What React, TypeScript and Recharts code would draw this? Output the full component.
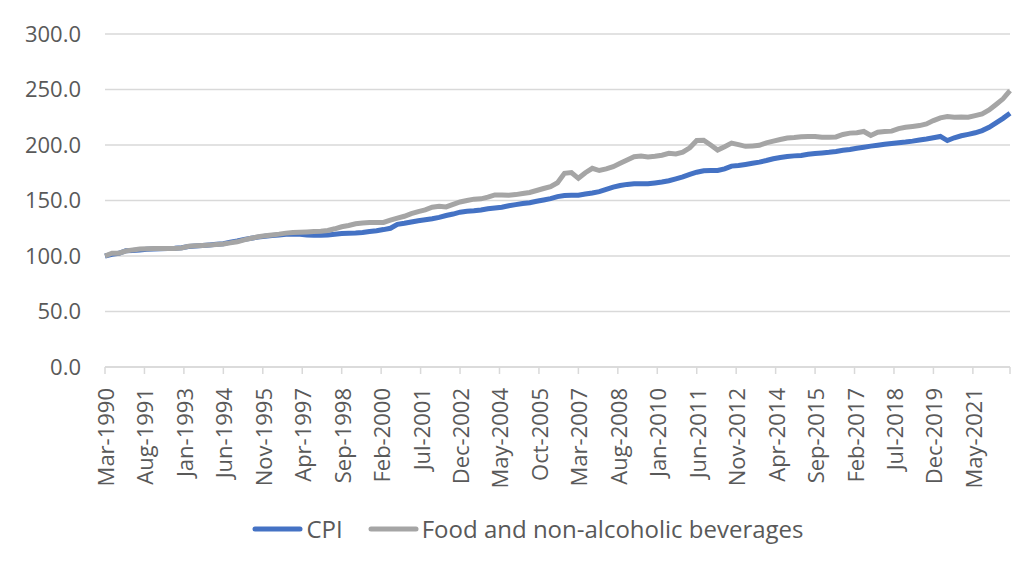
import { LineChart, Line, XAxis, YAxis, CartesianGrid, Legend } from 'recharts';

// Quarterly index, Mar-1990 = 100
const START_YEAR = 1990;
const START_MONTH = 2; // March

const MONTH_NAMES = ['Jan', 'Feb', 'Mar', 'Apr', 'May', 'Jun', 'Jul', 'Aug', 'Sep', 'Oct', 'Nov', 'Dec'];

const cpi = [
  100, 101.5, 102.5, 104.8, 105, 105.5, 106, 106.3, 106.5, 106.7,
  107, 107.5, 108.5, 109, 109.5, 110, 110.5, 111, 112.5, 113.5,
  115, 116, 117, 117.8, 118.4, 119, 119.5, 119.8, 119.5, 119,
  118.8, 118.7, 119, 119.5, 120.2, 120.4, 120.7, 121.2, 122, 122.8,
  123.8, 125, 128.5, 129.5, 130.7, 131.8, 132.6, 133.5, 134.8, 136.5,
  137.8, 139.5, 140.3, 140.7, 141.5, 142.5, 143.2, 144, 145.3, 146.3,
  147.3, 148, 149.3, 150.5, 151.7, 153.5, 154.5, 154.7, 154.7, 155.8,
  156.8, 158, 160, 162, 163.5, 164.5, 165, 165, 165, 165.8,
  166.6, 167.8, 169.5, 171.2, 173.5, 175.5, 176.8, 177, 177, 178.5,
  181, 181.6, 182.5, 183.5, 184.6, 186, 187.6, 188.8, 189.7, 190.2,
  190.6, 191.6, 192.3, 192.8, 193.4, 194.2, 195.2, 196, 197, 198,
  199, 199.8, 200.6, 201.4, 202.1, 202.7, 203.5, 204.5, 205.4, 206.5,
  207.7, 204, 206.5, 208.3, 209.6, 211, 213, 216, 220, 224,
  228.6,
];

const food = [
  100, 102.5, 102.5, 104.5, 105.5, 106.2, 106.5, 106.7, 106.8, 106.8,
  106.8, 107.3, 108.7, 109.2, 109.5, 109.8, 110.3, 110.8, 111.8, 112.8,
  114.5, 116, 117.3, 118.2, 119, 119.7, 120.6, 121.2, 121.5, 121.7,
  122, 122.3, 123, 124.5, 126.3, 127.5, 129, 129.8, 130.1, 130.1,
  130.2, 132.3, 134.2, 135.8, 138.2, 140, 141.5, 144, 144.8, 144.2,
  146.5, 148.7, 150, 151.2, 151.5, 153, 155, 155, 154.8, 155.3,
  156.3, 157.2, 159, 160.8, 162.5, 166, 174.5, 175.2, 170, 175,
  179, 177, 178.5, 180.5, 183.5, 186.5, 189.5, 190, 189.2, 189.8,
  190.8, 192.5, 192, 193.5, 197.5, 204, 204.3, 200, 195.5, 198.5,
  201.7, 200.3, 198.8, 199.2, 199.7, 202, 203.5, 205, 206.3, 206.8,
  207.5, 207.7, 207.7, 207, 207, 207.3, 209.5, 210.7, 211, 212.2,
  208.6, 211.5, 212.2, 212.5, 214.8, 216, 216.7, 217.5, 219, 222,
  224.5, 225.7, 225, 225.2, 225, 226.5, 228, 231.5, 236.5, 241.6,
  249,
];

const tickLabels = [
  'Mar-1990', 'Aug-1991', 'Jan-1993', 'Jun-1994', 'Nov-1995', 'Apr-1997',
  'Sep-1998', 'Feb-2000', 'Jul-2001', 'Dec-2002', 'May-2004', 'Oct-2005',
  'Mar-2007', 'Aug-2008', 'Jan-2010', 'Jun-2011', 'Nov-2012', 'Apr-2014',
  'Sep-2015', 'Feb-2017', 'Jul-2018', 'Dec-2019', 'May-2021',
];

const yTicks = [0, 50, 100, 150, 200, 250, 300];

// months since Mar-1990
const monthOffset = (label: string) => {
  const [mon, yr] = label.split('-');
  return (Number(yr) - START_YEAR) * 12 + MONTH_NAMES.indexOf(mon) - START_MONTH;
};

const data = cpi.map((v, i) => ({
  m: i * 3,
  cpi: v,
  food: food[i],
}));

const lastMonth = (cpi.length - 1) * 3;
const labelByMonth: Record<number, string> = {};
tickLabels.forEach(l => { labelByMonth[monthOffset(l)] = l; });
const xTicks = [...tickLabels.map(monthOffset), lastMonth];

const FONT = '"Open Sans", "Noto Sans", sans-serif';
const TEXT = '#595959';

const XTick = (props: any) => {
  const { x, y, payload } = props;
  const label = labelByMonth[payload.value];
  if (!label) return null;
  return (
    <text
      x={x}
      y={y + 12}
      transform={`rotate(-90, ${x}, ${y + 12})`}
      textAnchor="end"
      dominantBaseline="central"
      fontSize={22}
      fontFamily={FONT}
      fill={TEXT}
    >
      {label}
    </text>
  );
};

const renderLegend = (props: any) => {
  const { payload } = props;
  return (
    <div style={{ display: 'flex', justifyContent: 'center', alignItems: 'center', fontFamily: FONT, fontSize: 24, color: TEXT }}>
      {payload.map((entry: any, i: number) => (
        <div key={entry.value} style={{ display: 'flex', alignItems: 'center', marginLeft: i === 0 ? 0 : 25 }}>
          <svg width={51} height={10} style={{ marginRight: 3 }}>
            <line x1={3} y1={5} x2={48} y2={5} stroke={entry.color} strokeWidth={5} strokeLinecap="round" />
          </svg>
          <span>{entry.value}</span>
        </div>
      ))}
    </div>
  );
};

export default function App() {
  return (
    <div style={{ position: 'absolute', left: 0, top: 0, width: 1032, height: 567, background: '#fff' }}>
      <LineChart width={1032} height={567} data={data} margin={{ top: 34, right: 22, left: 0, bottom: 0 }}>
        <CartesianGrid vertical={false} stroke="#d9d9d9" strokeWidth={1.5} />
        <XAxis
          dataKey="m"
          type="number"
          domain={[0, lastMonth]}
          ticks={xTicks}
          interval={0}
          height={200}
          tick={<XTick />}
          tickSize={7}
          axisLine={{ stroke: '#d9d9d9', strokeWidth: 1.5 }}
          tickLine={{ stroke: '#d9d9d9', strokeWidth: 1.5 }}
        />
        <YAxis
          domain={[0, 300]}
          ticks={yTicks}
          width={105}
          axisLine={false}
          tickLine={false}
          tickSize={0}
          tickMargin={24}
          tickFormatter={(v: number) => v.toFixed(1)}
          tick={{ fontSize: 22, fontFamily: FONT, fill: TEXT }}
        />
        <Legend
          layout="horizontal"
          align="center"
          verticalAlign="middle"
          content={renderLegend}
          wrapperStyle={{ top: 512, left: 12, width: 1032 }}
        />
        <Line type="linear" dataKey="cpi" name="CPI" stroke="#4472C4" strokeWidth={5} dot={false} isAnimationActive={false} />
        <Line type="linear" dataKey="food" name="Food and non-alcoholic beverages" stroke="#A5A5A5" strokeWidth={5} dot={false} isAnimationActive={false} />
      </LineChart>
    </div>
  );
}
